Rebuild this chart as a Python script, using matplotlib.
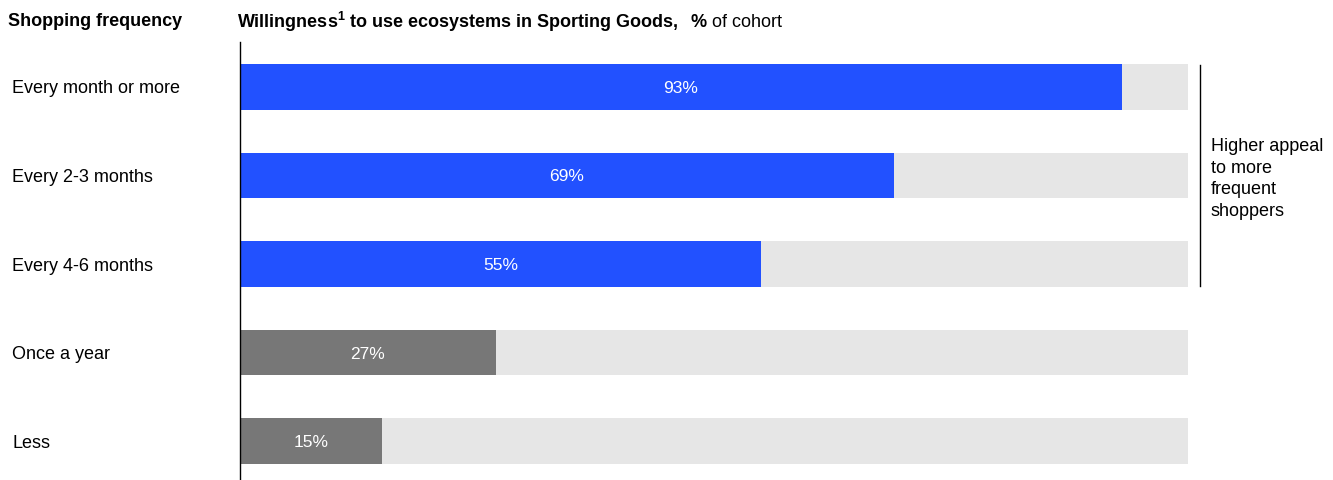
import matplotlib.pyplot as plt
import matplotlib.transforms as mtransforms

plt.rcParams['font.family'] = ['Liberation Sans', 'DejaVu Sans']
plt.rcParams['mathtext.fontset'] = 'custom'
plt.rcParams['mathtext.rm'] = 'Liberation Sans'
plt.rcParams['mathtext.bf'] = 'Liberation Sans:bold'
plt.rcParams['mathtext.it'] = 'Liberation Sans:italic'

categories = ["Every month or more", "Every 2-3 months", "Every 4-6 months", "Once a year", "Less"]
values = [93, 69, 55, 27, 15]
colors = ["#2251FF", "#2251FF", "#2251FF", "#777777", "#777777"]
bg_color = "#E6E6E6"

fig = plt.figure(figsize=(13.33, 4.8), dpi=100)
ax = fig.add_axes([240 / 1333, 0, 948 / 1333, 1 - 42 / 480])

ypos = list(range(len(categories)))
bar_h = 0.51

ax.barh(ypos, [100] * len(values), height=bar_h, color=bg_color, zorder=1)
ax.barh(ypos, values, height=bar_h, color=colors, zorder=2)

for y, v in zip(ypos, values):
    ax.text(v / 2, y, f"{v}%", ha="center", va="center_baseline", color="white", fontsize=12.5, zorder=3)

# category labels at the far left
trans = mtransforms.blended_transform_factory(fig.transFigure, ax.transData)
for y, c in zip(ypos, categories):
    ax.text(12 / 1333, y, c, transform=trans, ha="left", va="center_baseline", fontsize=13, color="black")

ax.set_xlim(0, 100)
ax.set_ylim(4.44, -0.508)
ax.set_xticks([])
ax.set_yticks([])
for s in ["top", "right", "bottom"]:
    ax.spines[s].set_visible(False)
ax.spines["left"].set_linewidth(1.0)

# bracket for the frequent shoppers
ax.plot([101.3, 101.3], [-0.25, 2.25], color="black", lw=1, clip_on=False)
ax.text(102.4, 1.04, "Higher appeal\nto more\nfrequent\nshoppers", ha="left", va="center",
        fontsize=13, linespacing=1.36)

# headers
fig.text(8 / 1333, 1 - 22 / 480, "Shopping frequency", fontweight="bold", fontsize=13, va="center")
fig.text(237 / 1333, 1 - 22 / 480,
         r"$\mathbf{Willingness^1\ to\ use\ ecosystems\ in\ Sporting\ Goods,\ \ \%}$ of cohort",
         fontsize=13, va="center")

fig.savefig("out.png", dpi=100)
